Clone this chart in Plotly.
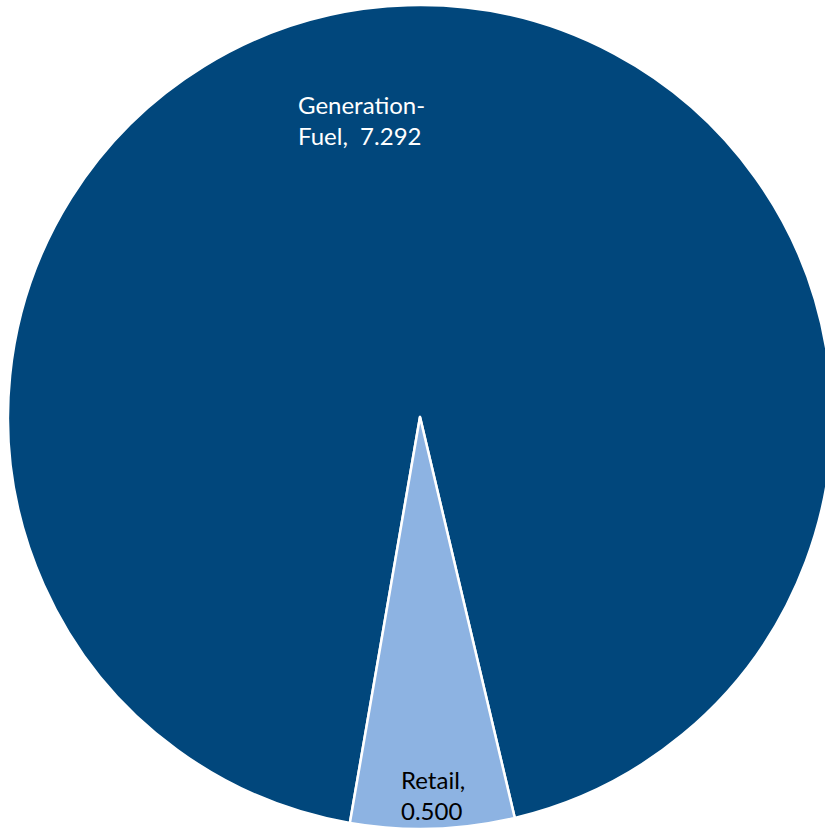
import plotly.graph_objects as go

# Cost components (values shown in the slice labels)
categories = ["Generation-Fuel", "Retail"]
values = [7.292, 0.500]
label_lines = [["Generation-", "Fuel,  {:.3f}"], ["Retail,", "{:.3f}"]]

colors = ["#01477C", "#8DB3E2"]
text_colors = ["white", "black"]

W, H = 840, 831

fig = go.Figure(
    go.Pie(
        labels=categories,
        values=values,
        sort=False,
        direction="clockwise",
        rotation=189.8,
        marker=dict(colors=colors, line=dict(color="white", width=2.5)),
        textinfo="none",
        hoverinfo="label+value",
        showlegend=False,
        domain=dict(x=[0, 1], y=[2 / H, 826 / H]),
    )
)

# Slice labels, placed inside each slice
label_pos = [(296, 120), (399, 795)]
for cat, val, lines, tc, (px, py) in zip(categories, values, label_lines, text_colors, label_pos):
    text = lines[0] + "<br>" + lines[1].format(val)
    fig.add_annotation(
        x=px / W, y=1 - py / H, xref="paper", yref="paper",
        text=text, showarrow=False, align="left",
        xanchor="left", yanchor="middle",
        font=dict(family="Lato, sans-serif", size=24, color=tc),
    )

fig.update_layout(
    width=W, height=H,
    margin=dict(l=0, r=0, t=0, b=0),
    paper_bgcolor="white", plot_bgcolor="white",
)

fig.write_html(
    "out.html",
    post_script="document.body.style.margin='0';document.body.style.overflow='hidden';",
)
